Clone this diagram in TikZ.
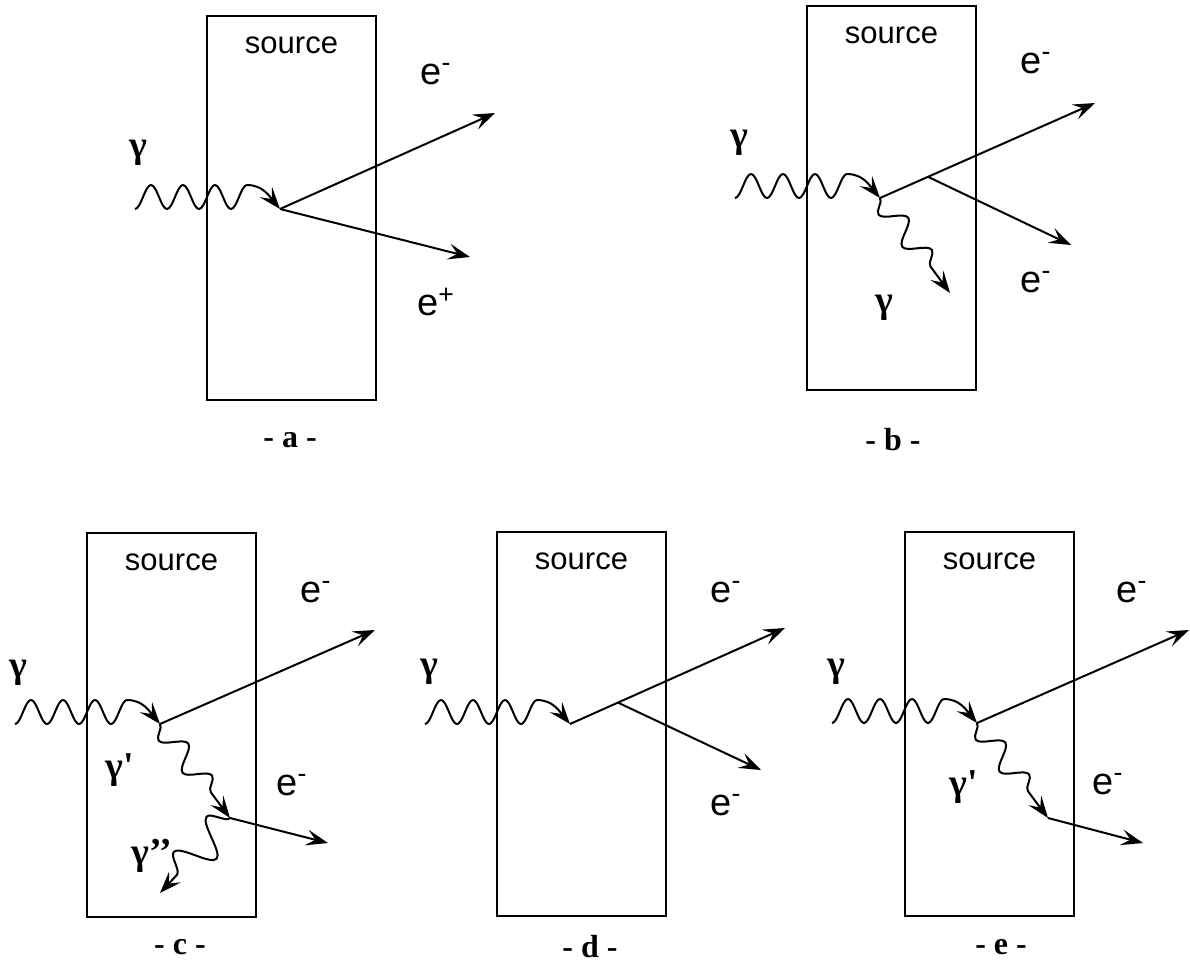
\documentclass[tikz,border=0pt]{standalone}
\usepackage{fontspec}
\setmainfont{Liberation Serif}
\setsansfont{Liberation Sans}
\usetikzlibrary{positioning,arrows.meta,decorations.pathmorphing,calc}

\begin{document}
\begin{tikzpicture}[x=0.5pt,y=-0.5pt,>={Stealth[length=11pt,width=8pt,inset=4.5pt]},line width=1pt,
  srcbox/.style={draw,minimum width=84.5pt,minimum height=192pt,inner sep=0pt},
  srctext/.style={font=\sffamily\fontsize{15.5}{18}\selectfont,inner sep=0pt},
  elabel/.style={font=\sffamily\fontsize{19}{22}\selectfont,inner sep=0pt},
  glabel/.style={font=\bfseries\fontsize{19}{22}\selectfont,inner sep=0pt},
  caption/.style={font=\bfseries\fontsize{16}{19}\selectfont,inner sep=0pt},
  kick/.style={->,decorate,decoration={snake,mirror,amplitude=5.5pt,segment length=20pt,post length=7pt}},
  kick2/.style={->,decorate,decoration={snake,mirror,amplitude=9pt,segment length=24pt,post length=10pt}},
  track/.style={->}]
\useasboundingbox (0,0) rectangle (1190,964);

% - a - pair production
\node[srcbox] (a-box) at (291.5,208) {};
\node[srctext] (a-src) at ([yshift=-15pt]a-box.north) {source};
\coordinate (a-in) at (135,209);
\coordinate (a-v) at (280,209);
\coordinate (a-e1) at (495,113);
\coordinate (a-e2) at (470,257);
\draw[->] (a-in) \foreach \i in {1,2,3} {cos ++(8,-12) sin ++(8,-12) cos ++(8,12) sin ++(8,12)}
  cos ++(8,-12) sin ++(8,-12) .. controls +(16,0) and +(-10,-12) .. (a-v);
\draw[track] (a-v) -- (a-e1);
\draw[track] (a-v) -- (a-e2);
\node[glabel] (a-g) at (138,153) {γ};
\node[elabel] (a-em) at (436,74) {e\textsuperscript{-}};
\node[elabel] (a-ep) at (436,302) {e\textsuperscript{+}};
\node[caption] (a-cap) at (290,440) {- a -};

% - b - compton
\node[srcbox] (b-box) at (891.5,198) {};
\node[srctext] (b-src) at ([yshift=-15pt]b-box.north) {source};
\coordinate (b-in) at (735,198);
\coordinate (b-v) at (880,198);
\coordinate (b-e1) at (1095,103);
\coordinate (b-x) at ($(b-v)!0.223!(b-e1)$);
\coordinate (b-e2) at (1071,245);
\coordinate (b-g) at (950,293);
\draw[->] (b-in) \foreach \i in {1,2,3} {cos ++(8,-12) sin ++(8,-12) cos ++(8,12) sin ++(8,12)}
  cos ++(8,-12) sin ++(8,-12) .. controls +(16,0) and +(-10,-12) .. (b-v);
\draw[track] (b-v) -- (b-e1);
\draw[track] (b-x) -- (b-e2);
\draw[kick] (b-v) -- (b-g);
\node[glabel] (b-g0) at (739,143) {γ};
\node[glabel] (b-g1) at (884,308) {γ};
\node[elabel] (b-em1) at (1036,63) {e\textsuperscript{-}};
\node[elabel] (b-em2) at (1036,282) {e\textsuperscript{-}};
\node[caption] (b-cap) at (893,440) {- b -};

% - c -
\node[srcbox] (c-box) at (171.5,725) {};
\node[srctext] (c-src) at ([yshift=-15pt]c-box.north) {source};
\coordinate (c-in) at (15,724);
\coordinate (c-v) at (160,724);
\coordinate (c-e1) at (375,630);
\coordinate (c-g1) at (230,818);
\coordinate (c-e2) at (328,843);
\coordinate (c-g2) at (160,893);
\draw[->] (c-in) \foreach \i in {1,2,3} {cos ++(8,-12) sin ++(8,-12) cos ++(8,12) sin ++(8,12)}
  cos ++(8,-12) sin ++(8,-12) .. controls +(16,0) and +(-10,-12) .. (c-v);
\draw[track] (c-v) -- (c-e1);
\draw[kick] (c-v) -- (c-g1);
\draw[track] (c-g1) -- (c-e2);
\draw[kick2] (c-g1) -- (c-g2);
\node[glabel] (c-g0) at (18,673) {γ};
\node[glabel] (c-gp) at (120,770) {γ\textquotesingle};
\node[glabel] (c-gpp) at (152,856) {γ’’};
\node[elabel] (c-em1) at (316,592) {e\textsuperscript{-}};
\node[elabel] (c-em2) at (292,785) {e\textsuperscript{-}};
\node[caption] (c-cap) at (180,947) {- c -};

% - d -
\node[srcbox] (d-box) at (581.5,724) {};
\node[srctext] (d-src) at ([yshift=-15pt]d-box.north) {source};
\coordinate (d-in) at (425,724);
\coordinate (d-v) at (570,724);
\coordinate (d-e1) at (785,628);
\coordinate (d-x) at ($(d-v)!0.223!(d-e1)$);
\coordinate (d-e2) at (761,770);
\draw[->] (d-in) \foreach \i in {1,2,3} {cos ++(8,-12) sin ++(8,-12) cos ++(8,12) sin ++(8,12)}
  cos ++(8,-12) sin ++(8,-12) .. controls +(16,0) and +(-10,-12) .. (d-v);
\draw[track] (d-v) -- (d-e1);
\draw[track] (d-x) -- (d-e2);
\node[glabel] (d-g0) at (429,672) {γ};
\node[elabel] (d-em1) at (726,592) {e\textsuperscript{-}};
\node[elabel] (d-em2) at (726,805) {e\textsuperscript{-}};
\node[caption] (d-cap) at (590,947) {- d -};

% - e -
\node[srcbox] (e-box) at (989.5,724) {};
\node[srctext] (e-src) at ([yshift=-15pt]e-box.north) {source};
\coordinate (e-in) at (832,723);
\coordinate (e-v) at (977,723);
\coordinate (e-e1) at (1189,630);
\coordinate (e-g1) at (1048,818);
\coordinate (e-e2) at (1143,843);
\draw[->] (e-in) \foreach \i in {1,2,3} {cos ++(8,-12) sin ++(8,-12) cos ++(8,12) sin ++(8,12)}
  cos ++(8,-12) sin ++(8,-12) .. controls +(16,0) and +(-10,-12) .. (e-v);
\draw[track] (e-v) -- (e-e1);
\draw[kick] (e-v) -- (e-g1);
\draw[track] (e-g1) -- (e-e2);
\node[glabel] (e-g0) at (836,672) {γ};
\node[glabel] (e-gp) at (964,787) {γ\textquotesingle};
\node[elabel] (e-em1) at (1132,592) {e\textsuperscript{-}};
\node[elabel] (e-em2) at (1108,784) {e\textsuperscript{-}};
\node[caption] (e-cap) at (1001,947) {- e -};
\end{tikzpicture}
\end{document}
